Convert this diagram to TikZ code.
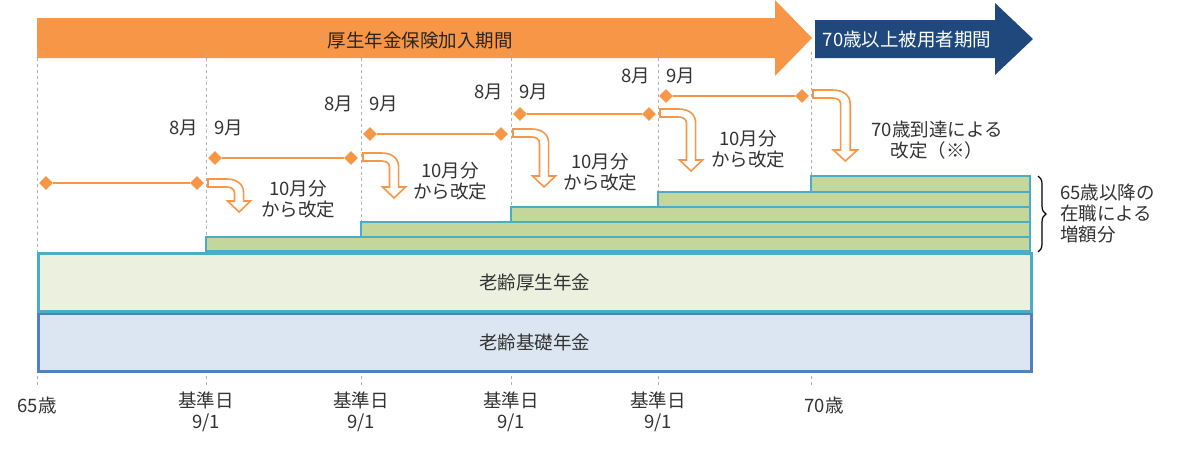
\documentclass[tikz,border=0pt]{standalone}
\usepackage{fontspec}
\setmainfont{Noto Sans CJK JP}
\usetikzlibrary{decorations.pathreplacing,shapes.geometric}
\definecolor{org}{RGB}{247,150,70}
\definecolor{navy}{RGB}{31,73,125}
\definecolor{teal}{RGB}{75,172,198}
\definecolor{lgreen}{RGB}{195,214,155}
\definecolor{pgreen}{RGB}{235,241,222}
\definecolor{pblue}{RGB}{220,230,242}
\definecolor{sblue}{RGB}{79,129,189}
\newcommand\bentarr[4]{% x, y, width scale, vertical extra
  \begin{scope}[shift={(#1,#2)}, x=#3pt]
  \path[bent] (0,0) -- (16,0) .. controls (26,0) and (31,6) .. (31,14) -- (31,14+#4) -- (37,14+#4) -- (27,25+#4) -- (17,14+#4) -- (23,14+#4) -- (23,14) .. controls (23,10) and (20,8) .. (16,8) -- (0,8) -- cycle;
  \end{scope}}
\begin{document}
\begin{tikzpicture}[x=1pt,y=-1pt,
  lbl/.style={font=\fontsize{18.5}{21}\selectfont, text=black!80, inner sep=0pt},
  two/.style={lbl, align=center},
  vline/.style={gray!60, dashed, line width=0.8pt},
  dline/.style={org, line width=2.6pt},
  dia/.style={diamond, fill=org, inner sep=0pt, minimum size=14pt},
  layer/.style={fill=lgreen, draw=teal, line width=2.5pt},
  bent/.style={draw=org, fill=white, line width=1.6pt}]
\useasboundingbox (0,0) rectangle (1200,453);
% top arrows
\fill[org] (37,18) -- (775,18) -- (775,0) -- (812,38) -- (775,76) -- (775,58) -- (37,58) -- cycle;
\node[lbl, text=black!85] (t1) at (420,40) {厚生年金保険加入期間};
\fill[navy] (815,20) -- (995,20) -- (995,3) -- (1033,39) -- (995,75) -- (995,58) -- (815,58) -- cycle;
\node[lbl, text=white] (t2) at (907,40) {70歳以上被用者期間};
% dashed verticals
\foreach \x/\n in {37/a,206/b,361/c,511/d,658/e,811/f}{
  \draw[vline] (\x,52) -- (\x,385);
  \coordinate (v\n) at (\x,0);}
% boxes
\node[draw=sblue, fill=pblue, line width=2.5pt, minimum width=993pt, minimum height=58pt, anchor=north west, inner sep=0pt] (kiso) at (37,312) {};
\node[lbl] at (kiso.center) {老齢基礎年金};
\node[draw=teal, fill=pgreen, line width=2.5pt, minimum width=993pt, minimum height=58pt, anchor=north west, inner sep=0pt] (kosei) at (37,252) {};
\node[lbl] at (kosei.center) {老齢厚生年金};
% layers
\draw[layer] (206,251) rectangle (1030,237);
\draw[layer] (361,237) rectangle (1030,222);
\draw[layer] (511,222) rectangle (1030,207);
\draw[layer] (658,207) rectangle (1030,192);
\draw[layer] (811,192) rectangle (1030,176);
% diamond lines
\foreach \a/\b/\y/\n in {46/197/183/1,215/351/158/2,370/501/134/3,520/649/114/4,666/802/96/5}{
  \node[dia] (l\n) at (\a,\y) {};
  \node[dia] (r\n) at (\b,\y) {};
  \draw[dline] (l\n) -- (r\n);}
% month labels
\foreach \x/\y in {206/128,361/104,511/92,658/76}{
  \node[lbl, anchor=east] at (\x-8,\y) {8月};
  \node[lbl, anchor=west] at (\x+8,\y) {9月};}
% bent arrows
\bentarr{208}{179}{1.15}{8}
\bentarr{363}{153}{1.15}{20}
\bentarr{513}{129}{1.15}{33}
\bentarr{660}{109}{1.15}{37}
\bentarr{813}{90}{1.2}{46}
\node[two] (m1) at (298,199) {10月分\\から改定};
\node[two] (m2) at (450,181) {10月分\\から改定};
\node[two] (m3) at (600,172) {10月分\\から改定};
\node[two] (m4) at (748,149) {10月分\\から改定};
\node[two] (m5) at (937,140) {70歳到達による\\改定（※）};
% brace
\draw[decorate, decoration={brace, amplitude=8pt}, line width=1.2pt] (1038,176) -- (1038,252);
\node[two, anchor=west, align=left] (inc) at (1060,214) {65歳以降の\\在職による\\増額分};
% bottom labels
\node[lbl] (b0) at (37,405) {65歳};
\foreach \x in {206,361,511,658}{
  \node[two] at (\x,412) {基準日\\9/1};}
\node[lbl] (b5) at (824,405) {70歳};
\end{tikzpicture}
\end{document}
